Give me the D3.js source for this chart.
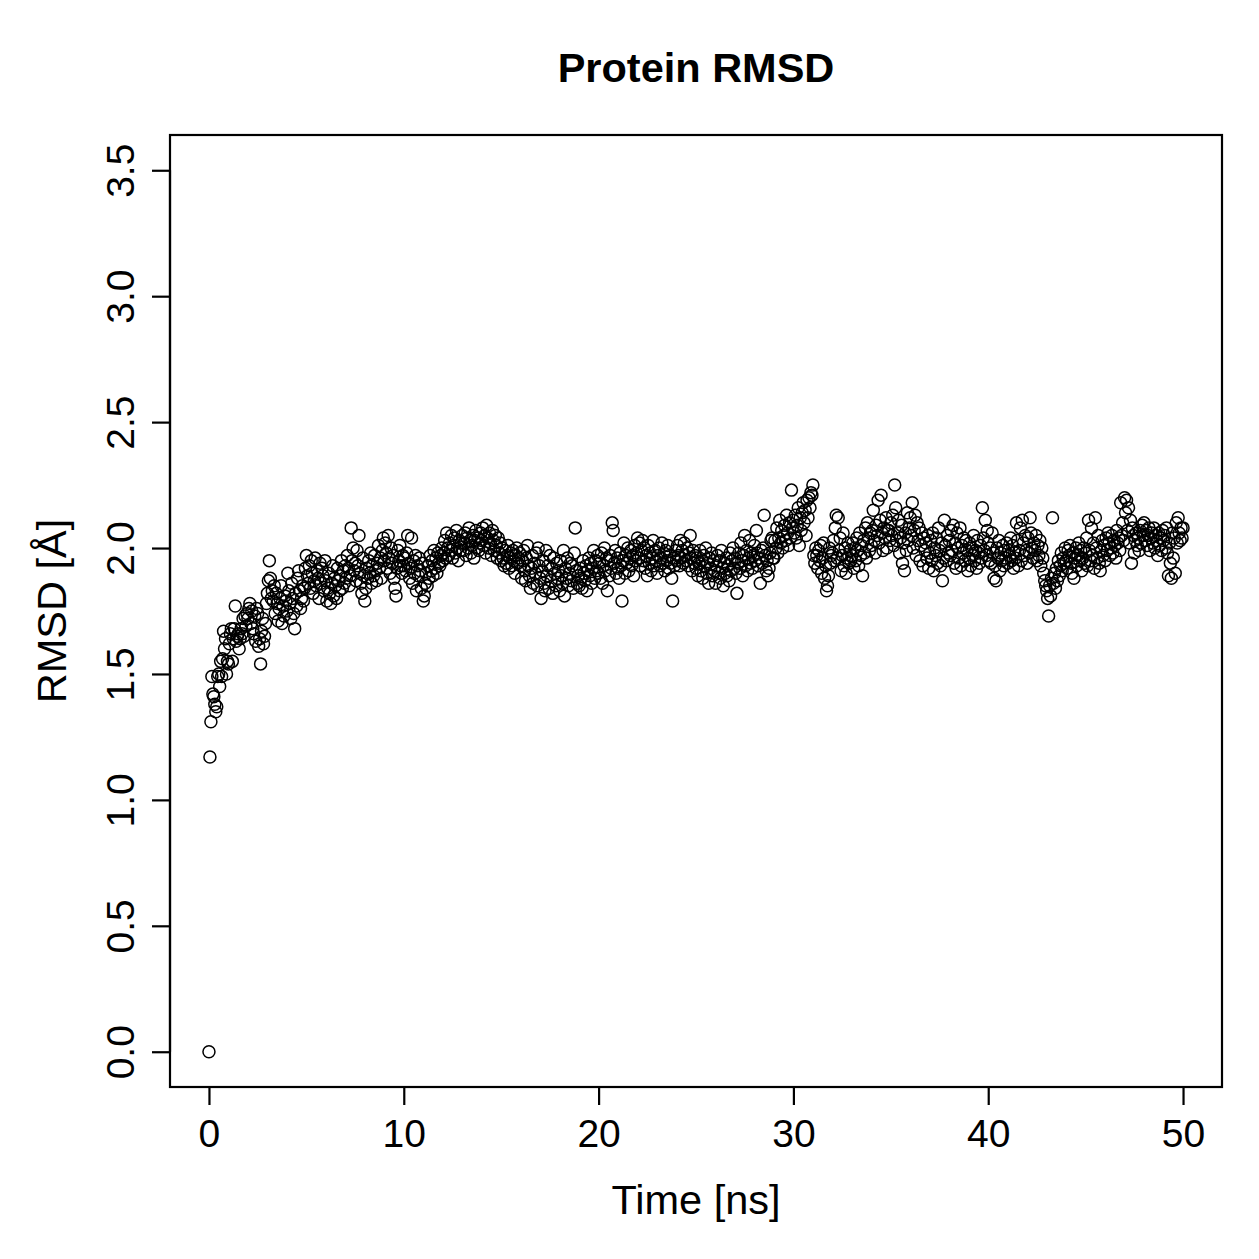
<!DOCTYPE html>
<html>
<head>
<meta charset="utf-8">
<script src="https://cdn.jsdelivr.net/npm/d3@7"></script>
<style>
  body { margin: 0; background: #fff; }
  text { font-family: "Liberation Sans", Arial, Helvetica, sans-serif; fill: #000; }
</style>
</head>
<body>
<svg width="1259" height="1259"></svg>
<script>
// RMSD values, one frame every 0.05 ns (20 frames per row = 1 ns)
var rmsd = [
  0.00,1.17,1.31,1.49,1.42,1.41,1.38,1.35,1.37,1.49,1.50,1.45,1.55,1.49,1.56,1.67,1.60,1.64,1.50,1.55,
  1.54,1.62,1.66,1.68,1.55,1.64,1.68,1.77,1.63,1.65,1.66,1.60,1.64,1.68,1.66,1.72,1.65,1.73,1.69,1.74,
  1.72,1.76,1.78,1.70,1.75,1.68,1.66,1.73,1.63,1.76,1.74,1.61,1.64,1.54,1.67,1.72,1.62,1.65,1.70,1.78,
  1.82,1.87,1.95,1.88,1.80,1.83,1.79,1.85,1.74,1.82,1.78,1.71,1.76,1.80,1.85,1.70,1.77,1.73,1.81,1.79,
  1.75,1.90,1.83,1.78,1.72,1.86,1.80,1.74,1.68,1.82,1.77,1.88,1.91,1.83,1.76,1.80,1.85,1.79,1.84,1.92,
  1.97,1.89,1.86,1.93,1.84,1.95,1.90,1.82,1.87,1.96,1.85,1.91,1.88,1.80,1.94,1.86,1.92,1.89,1.83,1.95,
  1.87,1.79,1.84,1.90,1.82,1.78,1.86,1.93,1.81,1.88,1.85,1.80,1.92,1.87,1.83,1.89,1.95,1.84,1.91,1.86,
  1.93,1.88,1.97,1.92,1.85,1.89,2.08,1.95,2.00,1.91,1.94,1.87,1.99,1.93,2.05,1.90,1.86,1.82,1.96,1.89,
  1.79,1.84,1.92,1.88,1.95,1.90,1.98,1.86,1.93,1.89,1.97,1.91,1.87,1.94,2.01,1.92,1.96,1.88,1.99,2.04,
  1.95,2.02,1.98,1.92,2.05,1.96,1.90,2.00,1.94,1.97,1.88,1.84,1.81,1.92,1.99,1.95,2.01,1.93,1.90,1.97,
  1.93,1.96,1.91,1.98,2.05,1.94,1.88,1.92,2.04,1.86,1.95,1.90,1.97,1.83,1.93,1.89,1.96,1.91,1.84,1.94,
  1.79,1.81,1.86,1.90,1.85,1.93,1.88,1.97,1.91,1.95,1.89,1.99,1.92,1.96,1.90,1.98,1.94,1.93,1.97,2.00,
  1.95,1.98,2.03,1.96,2.06,2.00,1.97,2.02,1.99,2.05,1.96,2.01,2.04,1.98,2.07,2.00,1.95,2.03,1.99,2.02,
  2.05,1.99,2.02,2.06,1.97,2.04,2.00,2.08,2.03,1.98,2.01,2.05,1.96,2.03,2.07,2.00,2.04,1.99,2.02,2.06,
  2.03,2.08,2.01,2.05,1.98,2.09,2.04,2.00,2.06,2.02,1.97,2.07,2.03,1.99,2.05,2.01,1.96,2.04,1.98,2.02,
  1.95,2.00,1.96,1.93,1.99,1.94,1.97,2.01,1.92,1.96,1.98,1.93,1.99,1.95,1.90,1.97,2.00,1.94,1.96,1.98,
  1.93,1.88,1.95,1.99,1.91,1.87,1.96,2.01,1.93,1.89,1.84,1.92,1.97,1.86,1.94,1.90,1.98,1.85,2.00,1.93,
  1.88,1.80,1.91,1.95,1.86,1.83,1.99,1.89,1.93,1.84,1.97,1.87,1.92,1.82,1.96,1.90,1.85,1.94,1.88,1.91,
  1.83,1.95,1.89,1.86,1.99,1.81,1.92,1.88,1.96,1.85,1.90,1.94,1.87,1.93,1.84,1.98,2.08,1.91,1.86,1.89,
  1.85,1.92,1.88,1.84,1.95,1.90,1.87,1.93,1.83,1.91,1.96,1.89,1.94,1.86,1.92,1.99,1.88,1.95,1.91,1.97,
  1.90,1.94,1.88,1.98,1.86,1.93,2.00,1.91,1.96,1.83,1.95,1.89,1.97,1.92,2.10,2.07,1.94,1.99,1.90,1.96,
  1.92,1.88,1.98,1.93,1.79,1.95,2.02,1.90,1.97,1.94,2.00,1.91,1.96,1.99,1.93,1.97,1.89,2.01,1.95,1.98,
  2.04,1.96,2.02,1.93,1.99,2.03,1.95,2.00,1.92,1.97,1.89,2.01,1.94,1.98,1.91,1.96,2.03,1.93,1.99,1.95,
  1.90,1.97,2.00,1.93,1.96,2.02,1.94,1.98,1.91,1.99,1.95,2.01,1.92,1.97,1.94,1.88,1.79,1.96,1.93,1.99,
  1.95,2.01,1.97,1.93,2.03,1.96,1.99,1.94,2.02,1.97,1.95,2.00,1.93,1.98,2.05,1.96,1.91,1.99,1.94,1.97,
  1.92,1.96,1.89,1.94,1.99,1.91,1.95,1.88,1.97,1.93,2.00,1.90,1.94,1.86,1.96,1.92,1.98,1.89,1.95,1.91,
  1.86,1.93,1.97,1.90,1.95,1.88,1.99,1.92,1.85,1.94,1.90,1.96,1.89,1.93,1.87,1.98,1.91,1.95,2.00,1.92,
  1.96,1.90,1.82,1.94,1.98,1.92,2.02,1.95,1.89,1.97,2.05,1.93,1.99,1.91,1.96,2.03,1.94,1.98,1.92,1.97,
  2.01,1.95,2.07,1.98,1.93,1.96,1.86,1.99,1.94,2.00,2.13,1.97,1.91,1.95,1.89,1.92,1.98,2.03,2.04,1.96,
  1.96,2.03,2.00,2.08,1.98,2.04,2.11,2.02,2.07,2.00,2.05,2.09,2.03,2.13,2.06,2.01,2.10,2.04,2.23,2.08,
  2.11,2.06,2.13,2.04,2.09,2.16,2.01,2.12,2.07,2.14,2.18,2.10,2.15,2.05,2.19,2.12,2.20,2.16,2.22,2.21,
  2.25,1.97,1.94,2.00,1.97,1.92,1.99,1.95,2.01,1.90,1.96,2.02,1.88,1.93,1.83,1.85,1.89,2.00,1.94,1.97,
  1.98,2.03,1.95,2.08,2.13,1.96,2.12,1.99,2.04,1.91,1.97,2.06,1.93,2.00,1.90,1.96,2.02,1.94,1.99,1.95,
  1.97,2.02,1.92,2.00,1.95,2.04,1.99,1.93,2.06,1.97,2.01,1.89,2.03,1.98,2.08,1.96,2.10,2.04,1.99,2.06,
  2.01,2.07,2.15,2.03,1.98,2.09,2.05,2.19,2.02,2.11,2.21,2.06,1.99,2.08,2.04,2.12,2.00,2.07,2.07,2.03,
  2.10,2.05,2.13,2.01,2.25,2.16,2.03,2.06,2.11,1.98,2.04,2.09,1.94,2.02,1.91,2.06,1.99,2.14,2.03,2.08,
  2.12,2.05,2.18,2.00,2.07,2.13,1.97,2.10,2.03,2.08,1.95,2.01,2.06,1.93,2.04,1.99,2.02,1.96,2.05,1.92,
  1.98,2.03,1.95,2.06,1.91,2.00,1.97,2.04,1.94,2.08,1.99,1.93,2.02,1.87,1.96,2.11,2.01,1.95,2.05,1.98,
  2.03,1.97,2.07,1.99,2.09,1.94,2.02,1.92,2.06,2.00,1.96,2.08,1.93,2.01,1.98,2.04,1.95,2.03,1.99,1.91,
  1.96,2.02,1.93,2.00,1.97,2.05,1.95,1.99,1.92,2.03,1.98,1.94,2.01,1.96,2.16,2.04,1.99,2.11,1.97,2.07,
  2.02,1.95,2.00,1.94,2.06,1.98,1.88,1.93,1.87,2.00,1.96,2.03,1.91,1.98,1.95,2.01,1.93,1.99,1.96,2.02,
  1.94,1.99,1.97,2.04,1.95,2.01,1.92,1.98,1.96,2.10,2.03,1.93,1.99,2.08,1.95,2.11,2.02,1.97,2.05,1.99,
  1.94,2.04,1.98,2.12,2.06,2.00,1.96,2.02,1.99,2.05,1.95,2.01,1.97,2.03,1.93,2.00,1.96,1.90,1.87,1.85,
  1.83,1.80,1.73,1.85,1.81,1.88,2.12,1.86,1.90,1.84,1.92,1.87,1.95,1.89,1.93,1.98,1.91,1.96,1.94,2.00,
  1.95,1.92,1.99,1.97,2.01,1.94,1.90,1.98,1.88,1.96,2.00,1.93,1.97,2.02,1.95,1.99,1.91,1.96,2.00,1.94,
  1.98,2.04,1.93,2.11,1.99,1.95,2.08,1.97,2.02,1.92,2.12,2.00,1.96,2.05,1.94,1.91,1.99,2.03,1.97,2.01,
  1.95,2.04,1.99,2.06,2.02,1.97,2.00,2.05,1.98,2.03,2.01,1.96,2.07,2.02,2.04,1.99,2.18,2.05,2.10,2.03,
  2.20,2.14,2.19,2.07,2.16,2.02,2.11,1.94,2.08,2.05,1.98,2.03,2.06,2.01,2.04,1.99,2.07,2.02,2.09,2.05,
  2.10,2.03,2.07,2.01,2.05,2.08,1.99,2.04,2.06,2.02,2.08,2.00,2.05,2.03,1.97,2.06,2.01,2.04,1.99,2.07,
  2.03,2.05,2.00,2.08,1.98,1.89,2.02,1.94,1.88,2.06,1.96,2.04,1.90,2.10,2.02,2.12,2.06,2.03,2.08,2.04,
  2.08
];
var frameStep = 0.05; // ns per frame
var xTicks = [0, 10, 20, 30, 40, 50];
var yTicks = [0, 0.5, 1, 1.5, 2, 2.5, 3, 3.5];

var svg = d3.select("svg");
// note: "top" is taken by window.top, so use plot* names
var plotL = 170, plotR = 1222, plotT = 135, plotB = 1087;

// R-style 4% padding around the ranges
var x = d3.scaleLinear().domain([-2, 52]).range([plotL, plotR]);
var y = d3.scaleLinear().domain([-0.14, 3.64]).range([plotB, plotT]);

var tickFont = 39;

// points
svg.append("g")
  .selectAll("circle")
  .data(rmsd)
  .enter().append("circle")
    .attr("cx", function(d, i) { return x(i * frameStep); })
    .attr("cy", function(d) { return y(d); })
    .attr("r", 6)
    .attr("fill", "none")
    .attr("stroke", "#000")
    .attr("stroke-width", 1.5);

// box
svg.append("rect")
  .attr("x", plotL).attr("y", plotT)
  .attr("width", plotR - plotL).attr("height", plotB - plotT)
  .attr("fill", "none").attr("stroke", "#000").attr("stroke-width", 2.2);

// x axis
var xAxis = svg.append("g")
  .attr("transform", "translate(0," + plotB + ")")
  .call(d3.axisBottom(x).tickValues(xTicks).tickSize(18).tickPadding(14).tickFormat(d3.format("d")));
xAxis.select(".domain")
  .attr("d", "M" + x(0) + ",0H" + x(50))
  .attr("stroke-width", 2.2);
xAxis.selectAll(".tick line").attr("stroke-width", 2.2);
xAxis.selectAll(".tick text")
  .style("font-size", tickFont + "px")
  .style("font-family", "Liberation Sans, Arial, sans-serif");

// y axis
var yAxis = svg.append("g")
  .attr("transform", "translate(" + plotL + ",0)")
  .call(d3.axisLeft(y).tickValues(yTicks).tickSize(18).tickFormat(d3.format(".1f")));
yAxis.select(".domain")
  .attr("d", "M0," + y(0) + "V" + y(3.5))
  .attr("stroke-width", 2.2);
yAxis.selectAll(".tick line").attr("stroke-width", 2.2);
yAxis.selectAll(".tick text")
  .attr("x", null).attr("dy", null)
  .attr("transform", "translate(-36,0) rotate(-90)")
  .attr("text-anchor", "middle")
  .style("font-size", tickFont + "px")
  .style("font-family", "Liberation Sans, Arial, sans-serif");

// title and axis labels
svg.append("text")
  .attr("x", (plotL + plotR) / 2).attr("y", 82)
  .attr("text-anchor", "middle")
  .style("font-size", "41.5px").style("font-weight", "bold")
  .text("Protein RMSD");

svg.append("text")
  .attr("x", (plotL + plotR) / 2).attr("y", 1214)
  .attr("text-anchor", "middle")
  .style("font-size", "41.5px")
  .text("Time [ns]");

svg.append("text")
  .attr("transform", "translate(66," + (plotT + plotB) / 2 + ") rotate(-90)")
  .attr("text-anchor", "middle")
  .style("font-size", "41.5px")
  .text("RMSD [Å]");
</script>
</body>
</html>
